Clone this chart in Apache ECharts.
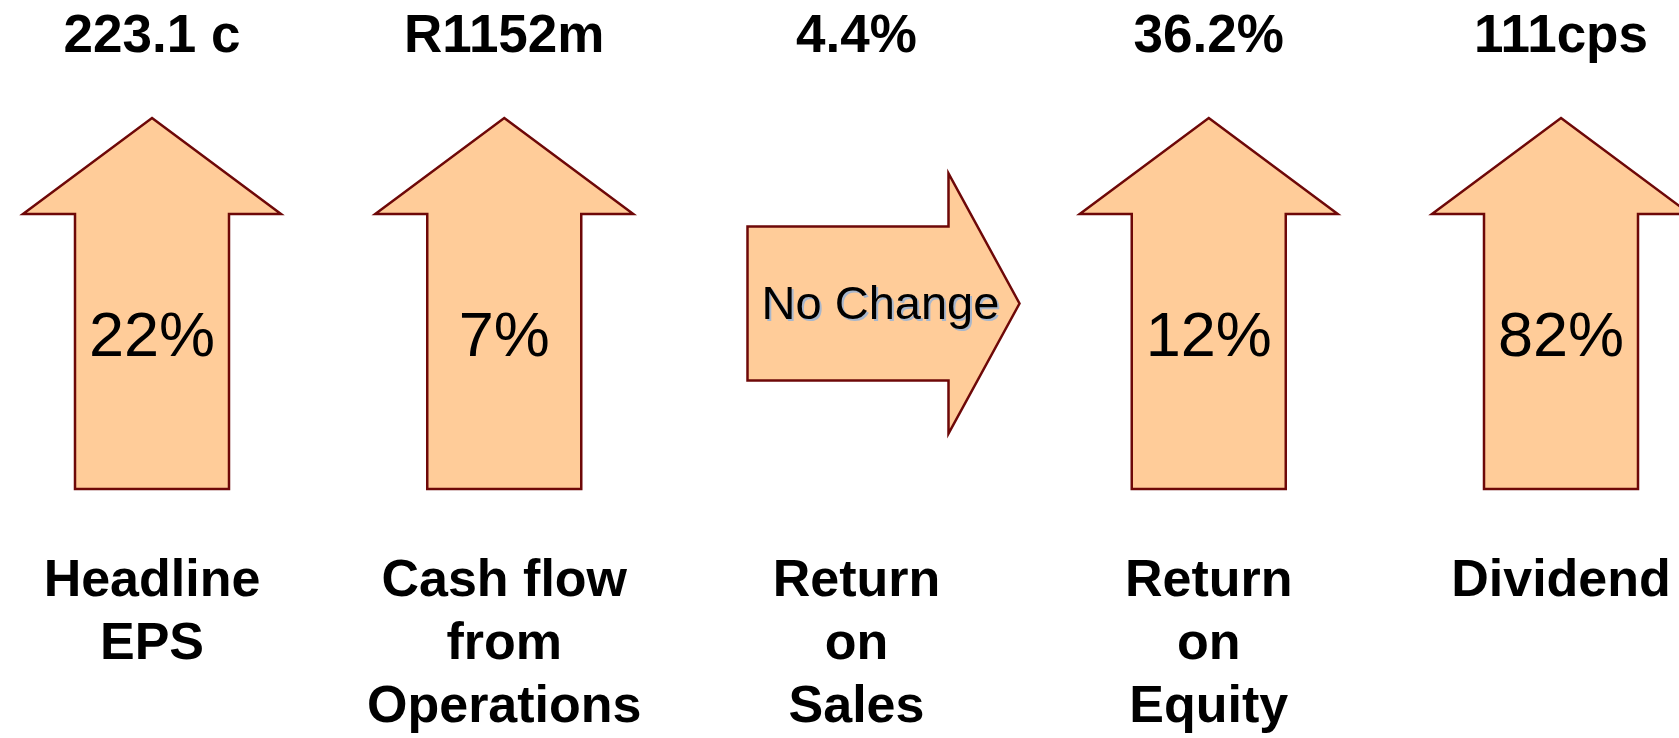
<!DOCTYPE html>
<html>
<head>
<meta charset="utf-8">
<script src="https://cdn.jsdelivr.net/npm/echarts@6/dist/echarts.min.js"></script>
<style>
    html,body{margin:0;padding:0;background:#fff;}
    #main{width:1679px;height:738px;}
</style>
</head>
<body>
<div id="main"></div>
<script>
// 指标数据
let metrics = ['Headline\nEPS', 'Cash flow\nfrom\nOperations', 'Return\non\nSales', 'Return\non\nEquity', 'Dividend']
let values = ['223.1 c', 'R1152m', '4.4%', '36.2%', '111cps']
let changes = ['22%', '7%', 'No Change', '12%', '82%']
let directions = ['up', 'up', 'right', 'up', 'up']

let font = '"Liberation Sans", Arial, sans-serif'
let fillColor = '#FFCC99'
let lineColor = '#6E0808'

let chart = echarts.init(document.getElementById('main'))

// 箭头 + 文字
function renderItem(params, api){
    let i = api.value(0)
    let top = api.coord([i, 1]), bot = api.coord([i, 0])
    let cx = top[0], y0 = top[1], y1 = bot[1]
    let cy = (y0 + y1) / 2
    let pts, tx, ty, fs
    let isRight = directions[i] == 'right'
    if(isRight){
        let l = cx - 109, hb = cx + 92, tip = cx + 163
        pts = [[l, cy - 77], [hb, cy - 77], [hb, cy - 130], [tip, cy], [hb, cy + 130], [hb, cy + 77], [l, cy + 77]]
        tx = cx + 24
        ty = cy + 3
        fs = 47
    }else{
        let hy = y0 + 96
        pts = [[cx, y0], [cx + 129, hy], [cx + 77, hy], [cx + 77, y1], [cx - 77, y1], [cx - 77, hy], [cx - 129, hy]]
        tx = cx
        ty = y1 - 150
        fs = 63
    }
    let children = [
        {
            type: 'polygon',
            shape: { points: pts },
            style: { fill: fillColor, stroke: lineColor, lineWidth: 2.5 }
        }
    ]
    // "No Change" 阴影
    if(isRight){
        children.push({
            type: 'text',
            x: tx + 2, y: ty + 2,
            style: {
                text: changes[i],
                fontFamily: font,
                fontSize: fs,
                fill: '#A7B6CC',
                align: 'center',
                verticalAlign: 'middle'
            }
        })
    }
    children.push(
        {
            type: 'text',
            x: tx, y: ty,
            style: {
                text: changes[i],
                fontFamily: font,
                fontSize: fs,
                fill: '#000',
                align: 'center',
                verticalAlign: 'middle'
            }
        },
        {
            type: 'text',
            x: cx, y: y0 - 81,
            style: {
                text: values[i],
                fontFamily: font,
                fontSize: 53,
                fontWeight: 'bold',
                fill: '#000',
                align: 'center',
                verticalAlign: 'middle'
            }
        },
        {
            type: 'text',
            x: cx, y: y1 + 61,
            style: {
                text: metrics[i],
                fontFamily: font,
                fontSize: 52,
                fontWeight: 'bold',
                lineHeight: 63,
                fill: '#000',
                align: 'center',
                verticalAlign: 'top'
            }
        }
    )
    return { type: 'group', children: children }
}

let option = {
    animation: false,
    grid: {
        left: 152,
        right: 118,
        top: 118,
        bottom: 249
    },
    xAxis: {
        type: 'category',
        data: metrics,
        boundaryGap: false,
        show: false
    },
    yAxis: {
        type: 'value',
        min: 0,
        max: 1,
        show: false
    },
    series: [{
        type: 'custom',
        renderItem: renderItem,
        data: metrics.map((m, i) => [i, 1])
    }]
}

chart.setOption(option)
</script>
</body>
</html>
